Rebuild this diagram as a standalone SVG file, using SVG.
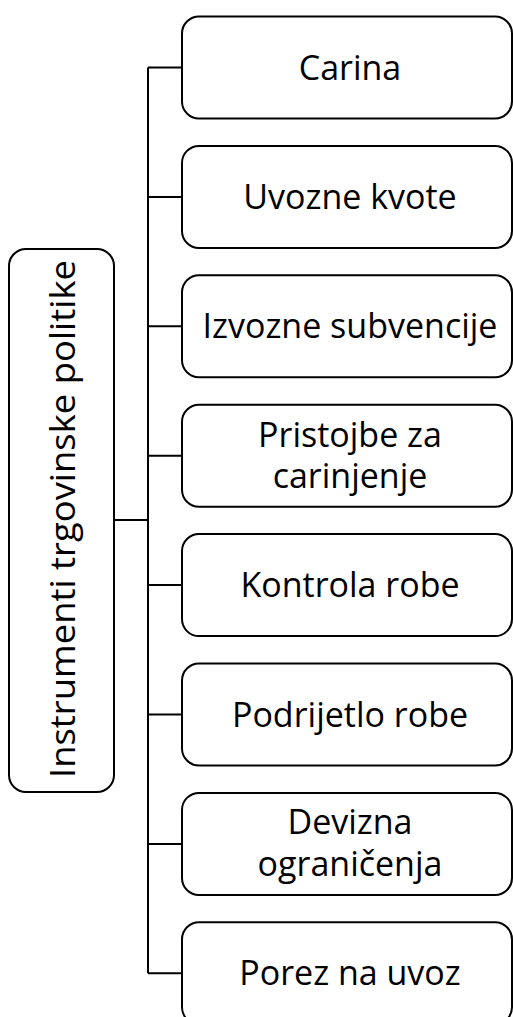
<svg xmlns="http://www.w3.org/2000/svg" width="513" height="1017" viewBox="0 0 513 1017">
<style>
.box{fill:#fff;stroke:#000;stroke-width:2}
.lbl{font-family:"Open Sans","Liberation Sans",sans-serif;font-size:34px;fill:#000;text-anchor:middle}
.con{fill:none;stroke:#000;stroke-width:2}
</style>
<rect width="513" height="1017" fill="#fff"/>
<g id="connectors">
<path class="con" d="M148 67.5V973.3 M114 520H148 M148 67.5H182 M148 196.9H182 M148 326.3H182 M148 455.7H182 M148 585.1H182 M148 714.5H182 M148 843.9H182 M148 973.3H182"/>
</g>
<g id="root">
<rect class="box" x="9" y="249" width="105" height="543" rx="17"/>
<text class="lbl" transform="translate(75,519) rotate(-90)" textLength="518" lengthAdjust="spacingAndGlyphs">Instrumenti trgovinske politike</text>
</g>
<g id="n1">
<rect class="box" x="182" y="16.5" width="330" height="102" rx="17"/>
<text class="lbl" x="350" y="79.5">Carina</text>
</g>
<g id="n2">
<rect class="box" x="182" y="145.9" width="330" height="102" rx="17"/>
<text class="lbl" x="350" y="208.9">Uvozne kvote</text>
</g>
<g id="n3">
<rect class="box" x="182" y="275.3" width="330" height="102" rx="17"/>
<text class="lbl" x="350" y="338.3">Izvozne subvencije</text>
</g>
<g id="n4">
<rect class="box" x="182" y="404.7" width="330" height="102" rx="17"/>
<text class="lbl" x="350" y="446.7">Pristojbe za</text>
<text class="lbl" x="350" y="488.2">carinjenje</text>
</g>
<g id="n5">
<rect class="box" x="182" y="534.1" width="330" height="102" rx="17"/>
<text class="lbl" x="350" y="597.1">Kontrola robe</text>
</g>
<g id="n6">
<rect class="box" x="182" y="663.5" width="330" height="102" rx="17"/>
<text class="lbl" x="350" y="726.5">Podrijetlo robe</text>
</g>
<g id="n7">
<rect class="box" x="182" y="792.9" width="330" height="102" rx="17"/>
<text class="lbl" x="350" y="833.9">Devizna</text>
<text class="lbl" x="350" y="876.4">ograničenja</text>
</g>
<g id="n8">
<rect class="box" x="182" y="922.3" width="330" height="102" rx="17"/>
<text class="lbl" x="350" y="985.3">Porez na uvoz</text>
</g>
</svg>
